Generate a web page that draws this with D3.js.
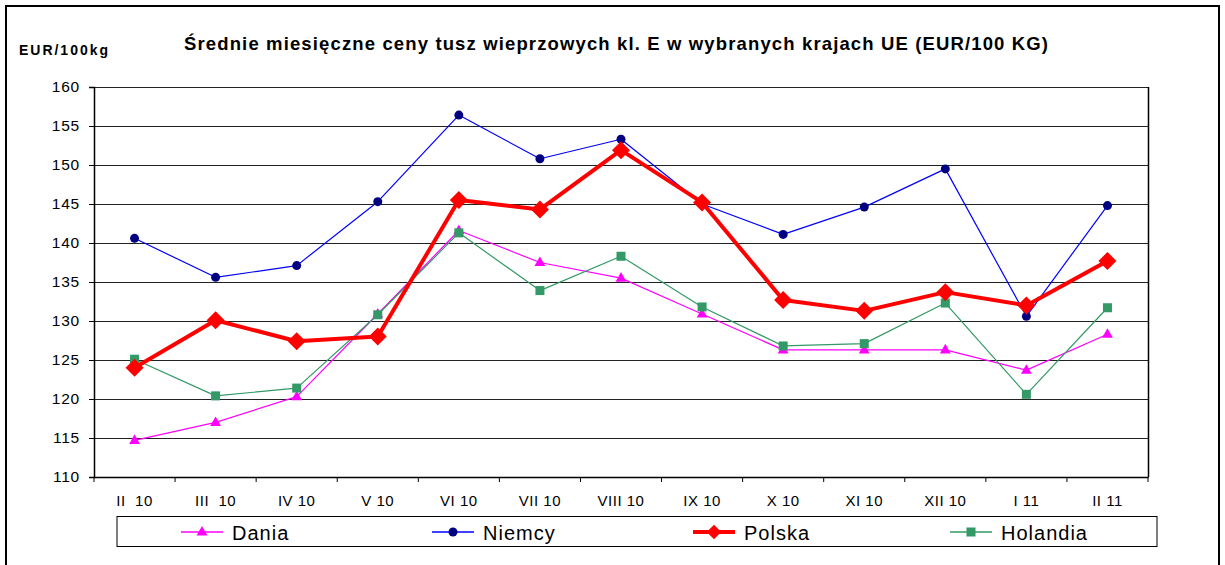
<!DOCTYPE html>
<html><head><meta charset="utf-8">
<script src="https://cdn.jsdelivr.net/npm/d3@7"></script>
<style>body{margin:0;background:#fff}svg{display:block}text{font-family:"Liberation Sans",Arial,sans-serif}</style>
</head><body>
<script>
const categories = ["II  10","III  10","IV 10","V 10","VI 10","VII 10","VIII 10","IX 10","X 10","XI 10","XII 10","I 11","II 11"];
const dania    = [114.7,117.0,120.3,130.9,141.6,137.5,135.5,130.9,126.3,126.3,126.3,123.7,128.3];
const niemcy   = [140.6,135.6,137.1,145.3,156.4,150.8,153.3,145.0,141.1,144.6,149.5,130.6,144.8];
const polska   = [124.0,130.1,127.4,128.0,145.5,144.3,151.9,145.2,132.7,131.3,133.7,132.0,137.7];
const holandia = [125.1,120.4,121.4,130.8,141.3,133.9,138.3,131.8,126.8,127.1,132.3,120.6,131.7];
const yTicks = [110,115,120,125,130,135,140,145,150,155,160];
const title = "Średnie miesięczne ceny tusz wieprzowych kl. E w wybranych krajach UE (EUR/100 KG)";
const yUnit = "EUR/100kg";

const series = [
  {name:"Dania", values:dania, line:"#FF00FF", fill:"#FF00FF", width:1.2, marker:"triangle", size:6},
  {name:"Niemcy", values:niemcy, line:"#0000FF", fill:"#000080", width:1.2, marker:"circle", size:4.5},
  {name:"Polska", values:polska, line:"#FF0000", fill:"#FF0000", width:4, marker:"diamond", size:9},
  {name:"Holandia", values:holandia, line:"#339966", fill:"#339966", width:1.2, marker:"square", size:4.5}
];

const W=1225,H=565;
const svg=d3.select("body").append("svg").attr("width",W).attr("height",H);
svg.append("rect").attr("x",6).attr("y",6).attr("width",1213).attr("height",570).attr("fill","#fff").attr("stroke","#000").attr("stroke-width",2);

const L=94,R=1148,T=87,B=477;
const x=d3.scaleBand().domain(categories).range([L,R]);
const y=d3.scaleLinear().domain([110,160]).range([B,T]);

// gridlines
svg.append("g").selectAll("line").data(yTicks.filter(v=>v>110)).join("line")
  .attr("x1",L).attr("x2",R).attr("y1",d=>y(d)+0.5).attr("y2",d=>y(d)+0.5)
  .attr("stroke","#222").attr("stroke-width",1);
// right border
svg.append("line").attr("x1",R+0.5).attr("x2",R+0.5).attr("y1",T).attr("y2",B).attr("stroke","#000").attr("stroke-width",1.5);

const yAxis=svg.append("g").attr("transform",`translate(${L},0)`)
  .call(d3.axisLeft(y).tickValues(yTicks).tickSize(5).tickPadding(9));
yAxis.select(".domain").attr("stroke","#000").attr("stroke-width",1.5);
yAxis.selectAll("text").attr("font-size",15.5).attr("letter-spacing","0.8px").attr("fill","#000");

const xAxis=svg.append("g").attr("transform",`translate(0,${B})`)
  .call(d3.axisBottom(x).tickSize(0).tickPadding(15));
xAxis.select(".domain").attr("stroke","#000").attr("stroke-width",1.5);
xAxis.selectAll("text").attr("font-size",15).attr("letter-spacing","0.5px").attr("fill","#000").attr("dy","0.95em").style("white-space","pre");
// tick marks at band boundaries
const bounds=categories.map(c=>x(c)).concat([R]);
svg.append("g").selectAll("line").data(bounds).join("line")
  .attr("x1",d=>d).attr("x2",d=>d).attr("y1",B).attr("y2",B+5).attr("stroke","#000");

function marker(g,s,cx,cy,scale){
  const sz=s.size*(scale||1);
  if(s.marker==="triangle"){
    g.append("path").attr("d",`M${cx},${cy-sz}L${cx+sz*0.9},${cy+sz*0.6}L${cx-sz*0.9},${cy+sz*0.6}Z`).attr("fill",s.fill);
  } else if(s.marker==="circle"){
    g.append("circle").attr("cx",cx).attr("cy",cy).attr("r",sz).attr("fill",s.fill);
  } else if(s.marker==="diamond"){
    g.append("path").attr("d",`M${cx},${cy-sz}L${cx+sz},${cy}L${cx},${cy+sz}L${cx-sz},${cy}Z`).attr("fill",s.fill);
  } else {
    g.append("rect").attr("x",cx-sz).attr("y",cy-sz).attr("width",2*sz).attr("height",2*sz).attr("fill",s.fill);
  }
}
const cx=c=>x(c)+x.bandwidth()/2;
const order=[series[0],series[3],series[1],series[2]];
order.forEach(s=>{
  const g=svg.append("g");
  g.append("path").datum(s.values).attr("fill","none").attr("stroke",s.line).attr("stroke-width",s.width)
    .attr("stroke-linejoin","round")
    .attr("d",d3.line().x((d,i)=>cx(categories[i])).y(d=>y(d)));
  s.values.forEach((v,i)=>marker(g,s,cx(categories[i]),y(v)));
});

// title
svg.append("text").attr("x",184).attr("y",50).attr("font-size",18.5).attr("font-weight","bold")
  .attr("textLength",864).attr("lengthAdjust","spacing").text(title);
svg.append("text").attr("x",19).attr("y",55).attr("font-size",14).attr("font-weight","bold")
  .attr("textLength",89).attr("lengthAdjust","spacing").text(yUnit);

// legend
svg.append("rect").attr("x",117).attr("y",516.5).attr("width",1040).attr("height",30).attr("fill","#fff").attr("stroke","#000").attr("stroke-width",1);
const legX=[181,432,693,950];
series.forEach((s,i)=>{
  const g=svg.append("g");
  const lx=legX[i], ly=532;
  g.append("line").attr("x1",lx).attr("x2",lx+42).attr("y1",ly).attr("y2",ly).attr("stroke",s.line).attr("stroke-width",s.width===4?4:1.5);
  marker(g,s,lx+21,ly,s.marker==="diamond"?0.8:1);
  g.append("text").attr("x",lx+51).attr("y",ly+7.5).attr("font-size",20).attr("letter-spacing","1px").text(s.name);
});
</script>
</body></html>
